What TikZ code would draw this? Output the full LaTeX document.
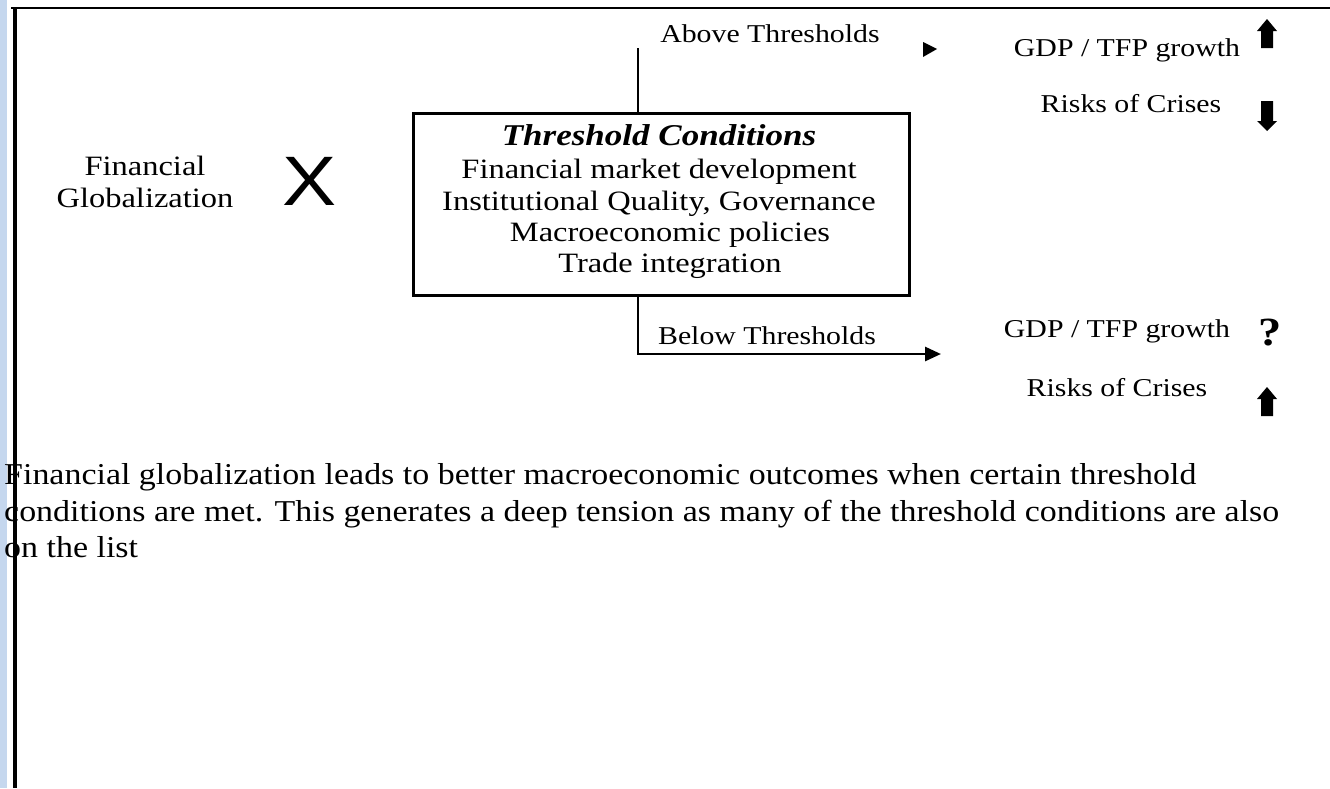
\documentclass[tikz,border=0pt]{standalone}
\usepackage{fontspec}
\setmainfont[FakeStretch=1.16]{Liberation Serif}
\newfontfamily\xfont[FakeStretch=1.16]{Liberation Sans}
\newfontfamily\parafont[FakeStretch=1.12]{Liberation Serif}
\usetikzlibrary{arrows.meta}
\definecolor{stripblue}{RGB}{197,215,238}
\tikzset{
  lbl/.style={inner sep=0pt, anchor=base, font=\fontsize{25.7}{30}\selectfont},
  boxtxt/.style={inner sep=0pt, anchor=base, font=\fontsize{28}{32}\selectfont},
  titletxt/.style={inner sep=0pt, anchor=base, font=\fontsize{30.2}{34}\selectfont\bfseries\itshape},
  para/.style={inner sep=0pt, anchor=base west, font=\parafont\fontsize{30.3}{36}\selectfont},
  conn/.style={line width=2.8pt},
  framebox/.style={draw, line width=2.5pt, inner sep=0pt, minimum width=496pt, minimum height=182pt, anchor=north west},
  uparrowpic/.pic={\fill (0,0) -- (10,12) -- (6,12) -- (6,29) -- (-6,29) -- (-6,12) -- (-10,12) -- cycle;},
  downarrowpic/.pic={\fill (0,0) -- (10,-10) -- (6,-10) -- (6,-30) -- (-6,-30) -- (-6,-10) -- (-10,-10) -- cycle;}
}
\begin{document}
\begin{tikzpicture}[x=1pt, y=-1pt]
\useasboundingbox (0,0) rectangle (1330,788);
\fill[white] (0,0) rectangle (1330,788);
\fill[stripblue] (0,0) rectangle (7,788);

% left side
\node[boxtxt] (fin) at (145,175) {Financial};
\node[boxtxt] (glob) at (145,207) {Globalization};
\node[inner sep=0pt, anchor=base, font=\xfont\fontsize{70}{70}\selectfont] (times) at (310,205) {X};

% threshold box
\node[framebox] (box) at (412,112) {};
\node[titletxt] (title) at (659,145) {Threshold Conditions};
\node[boxtxt] (c1) at (659,178) {Financial market development};
\node[boxtxt] (c2) at (659,210) {Institutional Quality, Governance};
\node[boxtxt] (c3) at (670,241) {Macroeconomic policies};
\node[boxtxt] (c4) at (670,272) {Trade integration};

% above branch
\coordinate (topEnd) at (638,48);
\draw[conn] (box.north west -| topEnd) -- (topEnd);
\node[lbl] (above) at (770,42) {Above Thresholds};
\coordinate (aboveTip) at (937,49);
\fill (aboveTip) -- ++(-14,-7) -- ++(0,15) -- cycle;
\node[lbl] (gdp1) at (1127,56) {GDP / TFP growth};
\node[lbl] (risk1) at (1131,112) {Risks of Crises};
\pic at (1267,19) {uparrowpic};
\pic at (1267,131) {downarrowpic};

% below branch
\coordinate (belowCorner) at (638,354);
\coordinate (belowTip) at (941,354);
\draw[conn, -{Triangle[length=16pt, width=14pt]}] (box.south west -| belowCorner) -- (belowCorner) -- (belowTip);
\node[lbl] (below) at (767,344) {Below Thresholds};
\node[lbl] (gdp2) at (1117,337) {GDP / TFP growth};
\node[inner sep=0pt, anchor=base, font=\fontsize{40}{40}\selectfont\bfseries] (q) at (1270,345) {?};
\node[lbl] (risk2) at (1117,396) {Risks of Crises};
\pic at (1267,387) {uparrowpic};

% paragraph
\node[para] (p1) at (4,484) {Financial globalization leads to better macroeconomic outcomes when certain threshold};
\node[para] (p2) at (4,521) {conditions are met. This generates a deep tension as many of the threshold conditions are also};
\node[para] (p3) at (4,557) {on the list};

% frame lines
\draw[line width=2.5pt] (11,8) -- (1330,8);
\draw[line width=3.4pt] (15,7) -- (15,788);
\end{tikzpicture}
\end{document}
